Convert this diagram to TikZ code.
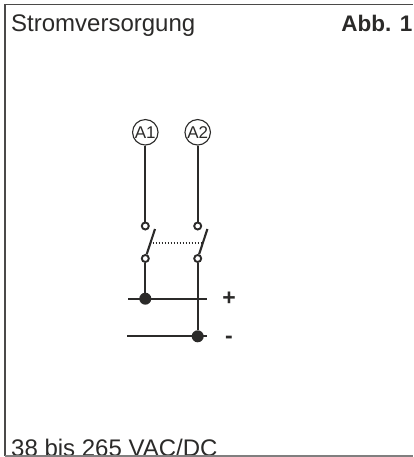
\documentclass[tikz,border=0pt]{standalone}
\usepackage{fontspec}
\setmainfont{Liberation Sans}
\definecolor{ink}{HTML}{2B2A29}
\tikzset{
  px/.style={x=1pt,y=-1pt},
  wire/.style={draw=ink,line width=2.1pt},
  frameline/.style={draw=ink!85,line width=1.2pt},
  terminal/.style={circle,draw=ink,fill=white,line width=1.1pt,minimum size=25.5pt,inner sep=0pt,font=\fontsize{17pt}{18pt}\selectfont,text=ink},
  contact/.style={circle,draw=ink,fill=white,line width=1.9pt,minimum size=7pt,inner sep=0pt},
  junction/.style={circle,fill=ink,minimum size=12pt,inner sep=0pt},
  lbl/.style={font=\fontsize{24pt}{26pt}\selectfont,text=ink,inner sep=0pt,anchor=base west},
}
\begin{document}
\begin{tikzpicture}[px]
\useasboundingbox (0,0) rectangle (413,457);
\fill[white] (0,0) rectangle (413,457);
\node[terminal] (a1) at (145.3,132.3) {A1};
\node[terminal] (a2) at (197.7,132.3) {A2};
\node[contact] (c1t) at (145.3,226) {};
\node[contact] (c2t) at (197.7,226) {};
\node[contact] (c1b) at (145.3,258.5) {};
\node[contact] (c2b) at (197.7,258.5) {};
\node[junction] (j1) at (145.3,298.7) {};
\node[junction] (j2) at (197.7,336.3) {};
\coordinate (p1l) at (128,298.7);
\coordinate (p1r) at (207,298.7);
\coordinate (m1l) at (127,336.3);
\coordinate (m1r) at (207,336.3);
\coordinate (b1) at (155,229);
\coordinate (b2) at (207.4,229);
\coordinate (d1) at (152.5,242.7);
\coordinate (d2) at (203,242.7);
\draw[wire] (a1) -- (c1t);
\draw[wire] (a2) -- (c2t);
\draw[wire] (c1b) -- (j1);
\draw[wire] (c2b) -- (j2);
\draw[wire] (p1l) -- (p1r);
\draw[wire] (m1l) -- (m1r);
\draw[wire] (c1b) -- (b1);
\draw[wire] (c2b) -- (b2);
\draw[draw=ink,line width=1.6pt,dash pattern=on 1.5pt off 1.5pt] (d1) -- (d2);
\node[font=\bfseries\fontsize{23pt}{26pt}\selectfont,text=ink,inner sep=0pt] (plus) at (229,298.5) {+};
\node[font=\bfseries\fontsize{23pt}{26pt}\selectfont,text=ink,inner sep=0pt] (minus) at (229,339.5) {-};
\node[lbl] (title) at (11,32) {Stromversorgung};
\node[lbl,font=\bfseries\fontsize{22.5pt}{26pt}\selectfont,anchor=base east] (abb) at (412.5,32) {Abb. 1};
\node[lbl] (range) at (11,456.5) {38 bis 265 VAC/DC};
\draw[frameline] (5,455.5) -- (5,4.5) -- (413,4.5);
\draw[frameline,draw=ink!60] (5,456) -- (413,456);
\end{tikzpicture}
\end{document}
